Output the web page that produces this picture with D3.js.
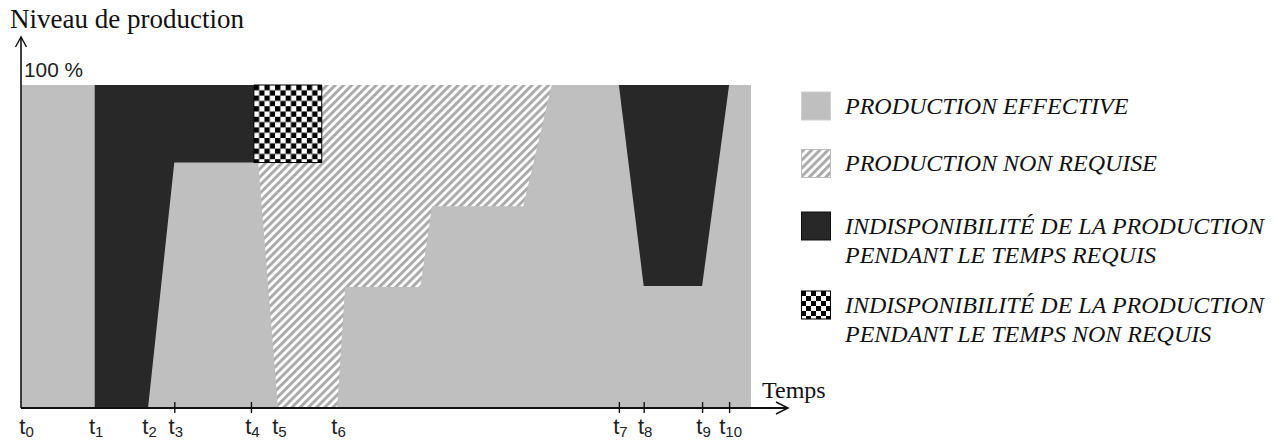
<!DOCTYPE html>
<html>
<head>
<meta charset="utf-8">
<script src="https://cdn.jsdelivr.net/npm/d3@7"></script>
<style>
  body { margin: 0; background: #fff; }
  svg { display: block; }
</style>
</head>
<body>
<svg id="chart"></svg>
<script>
// time instants t0..t10 (arbitrary time units, 0..100 = whole period)
const tickNames = ["0", "1", "2", "3", "4", "5", "6", "7", "8", "9", "10"];
const tickTimes = [0, 10.1, 17.4, 21.0, 31.5, 35.2, 43.3, 81.9, 85.3, 93.3, 97.0];
const tickMarked = [false, false, false, true, true, false, false, true, true, true, true];

// production level in % ; each region is a list of [time, level]
const effective = [[0, 0], [0, 100], [100, 100], [100, 0]];
const notRequired = [[41.2, 100], [72.7, 100], [68.8, 62.5], [56.3, 62.5], [54.7, 37.5],
                     [44.4, 37.5], [43.3, 0], [35.2, 0], [32.5, 76], [41.2, 76]];
const downRequired1 = [[10.1, 100], [31.9, 100], [31.9, 76], [21.0, 76], [17.4, 0], [10.1, 0]];
const downRequired2 = [[81.9, 100], [97.0, 100], [93.3, 37.8], [85.3, 37.8]];
const downNotRequired = [[31.9, 100], [41.2, 100], [41.2, 76], [31.9, 76]];

const legendKeys = ["effective", "notRequired", "downRequired", "downNotRequired"];
const legendLabels = [
    ["PRODUCTION EFFECTIVE"],
    ["PRODUCTION NON REQUISE"],
    ["INDISPONIBILITÉ DE LA PRODUCTION", "PENDANT LE TEMPS REQUIS"],
    ["INDISPONIBILITÉ DE LA PRODUCTION", "PENDANT LE TEMPS NON REQUIS"]
];

const width = 1283, height = 441;
const plot = { left: 21, right: 751, top: 85, bottom: 408 };
const legendCenters = [106, 163.5, 226, 305];

const svg = d3.select("#chart").attr("width", width).attr("height", height);

const x = d3.scaleLinear().domain([0, 100]).range([plot.left, plot.right]);
const y = d3.scaleLinear().domain([0, 100]).range([plot.bottom, plot.top]);

// patterns
const defs = svg.append("defs");
const hatch = defs.append("pattern")
    .attr("id", "hatch")
    .attr("patternUnits", "userSpaceOnUse")
    .attr("width", 5.8).attr("height", 5.8)
    .attr("patternTransform", "rotate(45)");
hatch.append("rect").attr("width", 5.8).attr("height", 5.8).attr("fill", "#fff");
hatch.append("rect").attr("width", 3).attr("height", 5.8).attr("fill", "#ababab");

function checker(id, x0, y0, s) {
    const p = defs.append("pattern")
        .attr("id", id)
        .attr("patternUnits", "userSpaceOnUse")
        .attr("x", x0).attr("y", y0)
        .attr("width", 2 * s).attr("height", 2 * s);
    p.append("rect").attr("width", 2 * s).attr("height", 2 * s).attr("fill", "#fff");
    p.append("rect").attr("width", s).attr("height", s).attr("fill", "#000");
    p.append("rect").attr("x", s).attr("y", s).attr("width", s).attr("height", s).attr("fill", "#000");
}
checker("checker", x(31.9), y(100), 5.3);

const fills = {
    effective: "#bfbfbf",
    notRequired: "url(#hatch)",
    downRequired: "#282828",
    downNotRequired: "url(#checker)"
};

const area = d3.line().x(d => x(d[0])).y(d => y(d[1]));

const regions = [
    { key: "effective", pts: effective },
    { key: "notRequired", pts: notRequired },
    { key: "downRequired", pts: downRequired1 },
    { key: "downRequired", pts: downRequired2 },
    { key: "downNotRequired", pts: downNotRequired }
];

svg.append("g").selectAll("path")
    .data(regions)
    .join("path")
    .attr("d", d => area(d.pts) + "Z")
    .attr("fill", d => fills[d.key])
    .attr("stroke", d => d.key === "downNotRequired" ? "#000" : "none")
    .attr("stroke-width", 1);

// axes
const axisColor = "#111";
svg.append("line")
    .attr("x1", x(0)).attr("x2", x(0))
    .attr("y1", y(0)).attr("y2", 37)
    .attr("stroke", axisColor).attr("stroke-width", 1.6);
svg.append("path")
    .attr("d", `M${x(0) - 5.5},47 L${x(0)},37 L${x(0) + 5.5},47`)
    .attr("fill", "none").attr("stroke", axisColor).attr("stroke-width", 1.4);

svg.append("line")
    .attr("x1", x(0)).attr("x2", 788)
    .attr("y1", y(0)).attr("y2", y(0))
    .attr("stroke", axisColor).attr("stroke-width", 2);
svg.append("path")
    .attr("d", `M776,402 L788,${y(0)} L776,414`)
    .attr("fill", "none").attr("stroke", axisColor).attr("stroke-width", 1.4);

const xAxis = svg.append("g")
    .attr("transform", `translate(0, ${y(0)})`)
    .call(d3.axisBottom(x).tickValues(tickTimes).tickSize(5).tickSizeOuter(0).tickFormat(""));
xAxis.select(".domain").remove();
xAxis.selectAll(".tick line")
    .attr("y1", -6).attr("y2", 5)
    .attr("stroke", axisColor).attr("stroke-width", 1.4)
    .attr("display", (d, i) => tickMarked[i] ? null : "none");

const labels = xAxis.selectAll(".tick text")
    .attr("y", 26).attr("dy", 0)
    .attr("x", (d, i) => i === 0 ? 5 : 1)
    .attr("font-family", "'Liberation Sans', Arial, sans-serif")
    .attr("fill", "#222");
labels.append("tspan").attr("font-size", 22).text("t");
labels.append("tspan").attr("font-size", 15).attr("dy", 3).text((d, i) => tickNames[i]);

svg.append("text")
    .attr("x", x(0) + 3).attr("y", y(100) - 8)
    .attr("font-family", "'Liberation Sans', Arial, sans-serif")
    .attr("font-size", 20)
    .attr("textLength", 59).attr("lengthAdjust", "spacingAndGlyphs")
    .attr("fill", "#222")
    .text("100 %");

svg.append("text")
    .attr("x", 10).attr("y", 28)
    .attr("font-family", "'Liberation Serif', 'Times New Roman', serif")
    .attr("font-size", 27)
    .attr("fill", "#111")
    .text("Niveau de production");

svg.append("text")
    .attr("x", 762).attr("y", 398)
    .attr("font-family", "'Liberation Serif', 'Times New Roman', serif")
    .attr("font-size", 24)
    .attr("fill", "#111")
    .text("Temps");

// legend
const strokes = {
    effective: "#cfcfcf",
    notRequired: "#bdbdbd",
    downRequired: "#111",
    downNotRequired: "#000"
};
legendKeys.forEach((k, i) => {
    const cy = legendCenters[i];
    if (k === "downNotRequired") checker("checker-leg", 801, cy - 14, 5);
    svg.append("rect")
        .attr("x", 801.5).attr("y", cy - 14)
        .attr("width", 29).attr("height", 28)
        .attr("fill", k === "downNotRequired" ? "url(#checker-leg)" : fills[k])
        .attr("stroke", strokes[k]).attr("stroke-width", 1);
    const t = svg.append("text")
        .attr("x", 845).attr("y", cy + 7.5)
        .attr("font-family", "'Liberation Serif', 'Times New Roman', serif")
        .attr("font-style", "italic")
        .attr("font-size", 24)
        .attr("fill", "#111");
    legendLabels[i].forEach((line, j) => {
        t.append("tspan").attr("x", 845).attr("dy", j === 0 ? 0 : 29).text(line);
    });
});
</script>
</body>
</html>
